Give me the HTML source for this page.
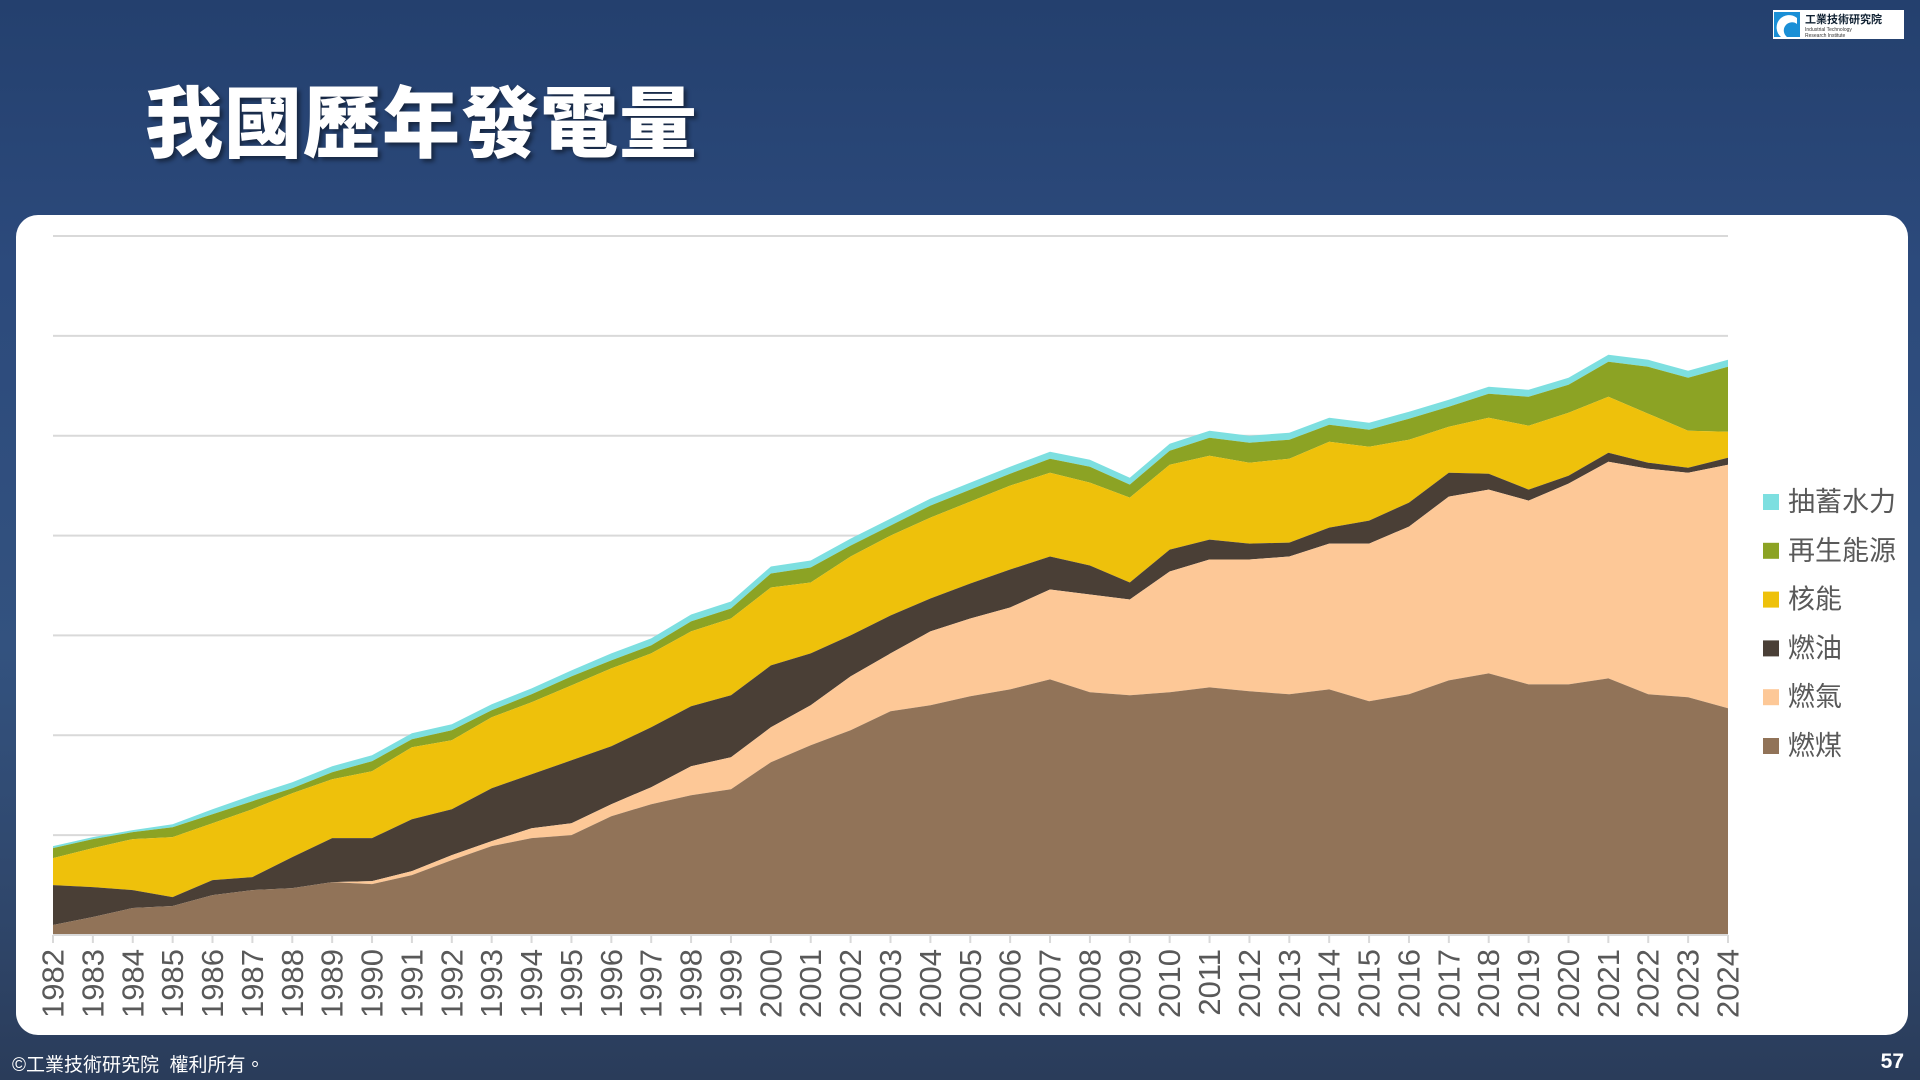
<!DOCTYPE html>
<html><head><meta charset="utf-8">
<style>
html,body{margin:0;padding:0;width:1920px;height:1080px;overflow:hidden;}
body{background:linear-gradient(180deg,#24406e 0%,#2c4a7c 25%,#33527f 60%,#2f466a 85%,#2a3c5a 100%);font-family:"Liberation Sans","Noto Sans CJK TC",sans-serif;position:relative;}
#title{position:absolute;left:145px;top:62px;font-size:78px;font-weight:900;color:#fff;letter-spacing:1px;text-shadow:3px 3px 4px rgba(0,0,0,.45);font-family:"Liberation Sans","Noto Sans CJK TC",sans-serif;}
#card{position:absolute;left:16px;top:215px;width:1892px;height:820px;background:#fff;border-radius:22px;}
#footer{position:absolute;left:12px;top:1050px;font-size:19px;color:#fff;}
#pagenum{position:absolute;right:16px;top:1050px;font-size:21px;color:#fff;font-weight:bold;}
#logo{position:absolute;left:1773px;top:10px;width:131px;height:29px;background:#fff;}
</style></head>
<body>
<div id="title">我國歷年發電量</div>
<div id="logo">
<svg width="131" height="29"><rect x="1" y="2" width="26" height="25" fill="#1a8fd6"/><path d="M24 8 A12 12 0 0 0 8 27 L14 27 A7 7 0 0 1 24 14Z" fill="#fff"/><text x="32" y="13" font-size="11" font-weight="bold" fill="#123">工業技術研究院</text><text x="32" y="21" font-size="5" fill="#333">Industrial Technology</text><text x="32" y="27" font-size="5" fill="#333">Research Institute</text></svg>
</div>
<div id="card"></div>
<svg id="chart" width="1920" height="1080" style="position:absolute;left:0;top:0"></svg>
<div id="footer">©工業技術研究院&nbsp; 權利所有。</div>
<div id="pagenum">57</div>
<script>
// cumulative stack tops (in gridline units, 0..7)
const years=[];for(let y=1982;y<=2024;y++)years.push(String(y));
const coalTop=[0.1,0.18,0.27,0.29,0.4,0.45,0.47,0.53,0.51,0.6,0.75,0.89,0.97,1.0,1.19,1.31,1.4,1.46,1.73,1.9,2.05,2.24,2.3,2.39,2.46,2.56,2.43,2.4,2.43,2.48,2.44,2.41,2.46,2.34,2.41,2.55,2.62,2.51,2.51,2.57,2.41,2.38,2.27];
const gasTop=[0.1,0.18,0.27,0.29,0.4,0.45,0.47,0.53,0.54,0.64,0.8,0.94,1.07,1.12,1.31,1.48,1.69,1.78,2.08,2.3,2.59,2.82,3.04,3.17,3.28,3.46,3.41,3.36,3.64,3.76,3.76,3.79,3.92,3.92,4.09,4.39,4.46,4.35,4.52,4.74,4.67,4.63,4.71];
const oilTop=[0.5,0.48,0.45,0.38,0.55,0.58,0.78,0.97,0.97,1.16,1.26,1.47,1.61,1.75,1.89,2.08,2.29,2.4,2.7,2.82,3.0,3.2,3.37,3.52,3.66,3.79,3.7,3.53,3.86,3.96,3.92,3.93,4.08,4.15,4.33,4.63,4.62,4.46,4.6,4.83,4.73,4.68,4.78];
const nuclearTop=[0.77,0.87,0.96,0.98,1.12,1.26,1.42,1.56,1.64,1.88,1.95,2.18,2.33,2.5,2.67,2.82,3.04,3.17,3.48,3.53,3.79,4.0,4.18,4.34,4.5,4.63,4.53,4.38,4.71,4.8,4.73,4.77,4.94,4.89,4.96,5.09,5.18,5.1,5.23,5.39,5.22,5.05,5.04];
const renewTop=[0.87,0.96,1.03,1.08,1.21,1.34,1.47,1.63,1.74,1.96,2.05,2.25,2.41,2.59,2.75,2.9,3.14,3.27,3.62,3.68,3.9,4.1,4.3,4.46,4.62,4.77,4.69,4.51,4.85,4.98,4.93,4.96,5.11,5.06,5.17,5.29,5.42,5.39,5.51,5.74,5.69,5.58,5.69];
const pumpedThick=[0.02,0.02,0.02,0.03,0.05,0.06,0.06,0.06,0.06,0.06,0.06,0.06,0.06,0.06,0.07,0.07,0.07,0.07,0.07,0.07,0.07,0.07,0.07,0.07,0.07,0.07,0.07,0.07,0.07,0.07,0.07,0.07,0.07,0.07,0.07,0.07,0.07,0.07,0.07,0.07,0.07,0.07,0.07];
const gridTicks=[0,1,2,3,4,5,6,7];
const seriesNames=["抽蓄水力","再生能源","核能","燃油","燃氣","燃煤"];

const NS="http://www.w3.org/2000/svg";
const svg=document.getElementById('chart');
const X0=53,X1=1728,Y0=935,YT=236;
const xs=i=>X0+(X1-X0)*i/(years.length-1);
const ys=v=>Y0-(Y0-YT)*v/7;
function mk(t,a){const e=document.createElementNS(NS,t);for(const k in a)e.setAttribute(k,a[k]);svg.appendChild(e);return e;}
gridTicks.forEach(t=>{
  const l=mk('line',{x1:X0,x2:X1,y1:ys(t),y2:ys(t),stroke:'#d9d9d9','stroke-width':2});
  
  
});
const pumpedTop=renewTop.map((v,i)=>v+pumpedThick[i]);
const zero=years.map(()=>0);
const layers=[
 ['pumped-hydro-area',renewTop,pumpedTop,'#7ddfe0'],
 ['renewable-area',nuclearTop,renewTop,'#8ca324'],
 ['nuclear-area',oilTop,nuclearTop,'#eec10b'],
 ['oil-area',gasTop,oilTop,'#4a3f36'],
 ['gas-area',coalTop,gasTop,'#fdc897'],
 ['coal-area',zero,coalTop,'#917358']];
layers.forEach(([name,lo,hi,col])=>{
  let d='';
  hi.forEach((v,i)=>{d+=(i?'L':'M')+xs(i).toFixed(1)+' '+ys(v).toFixed(1);});
  for(let i=lo.length-1;i>=0;i--)d+='L'+xs(i).toFixed(1)+' '+ys(lo[i]).toFixed(1);
  const p=mk('path',{d:d+'Z',fill:col});
  
  
});
const ax=mk('line',{x1:X0,x2:X1,y1:Y0,y2:Y0,stroke:'#d9d9d9','stroke-width':2});


years.forEach((yr,i)=>{
  const tk=mk('line',{x1:xs(i),x2:xs(i),y1:Y0,y2:Y0+8,stroke:'#d9d9d9','stroke-width':2});
  
  
  const t=mk('text',{x:0,y:0,'font-size':31,fill:'#595959','text-anchor':'end','dominant-baseline':'central',transform:`translate(${xs(i)},${Y0+14}) rotate(-90)`,'font-family':'Liberation Sans, sans-serif'});
  t.textContent=yr;
  
  
});
const legCols=['#7ddfe0','#8ca324','#eec10b','#4a3f36','#fdc897','#917358'];
seriesNames.forEach((n,i)=>{
  const y=502+i*48.8;
  const r=mk('rect',{x:1763,y:y-8,width:16,height:16,fill:legCols[i]});
  
  
  const t=mk('text',{x:1788,y:y,'font-size':27,fill:'#595959','dominant-baseline':'central','font-family':'Liberation Sans, Noto Sans CJK TC, sans-serif'});
  t.textContent=n;
  
  
});
</script>
</body></html>
